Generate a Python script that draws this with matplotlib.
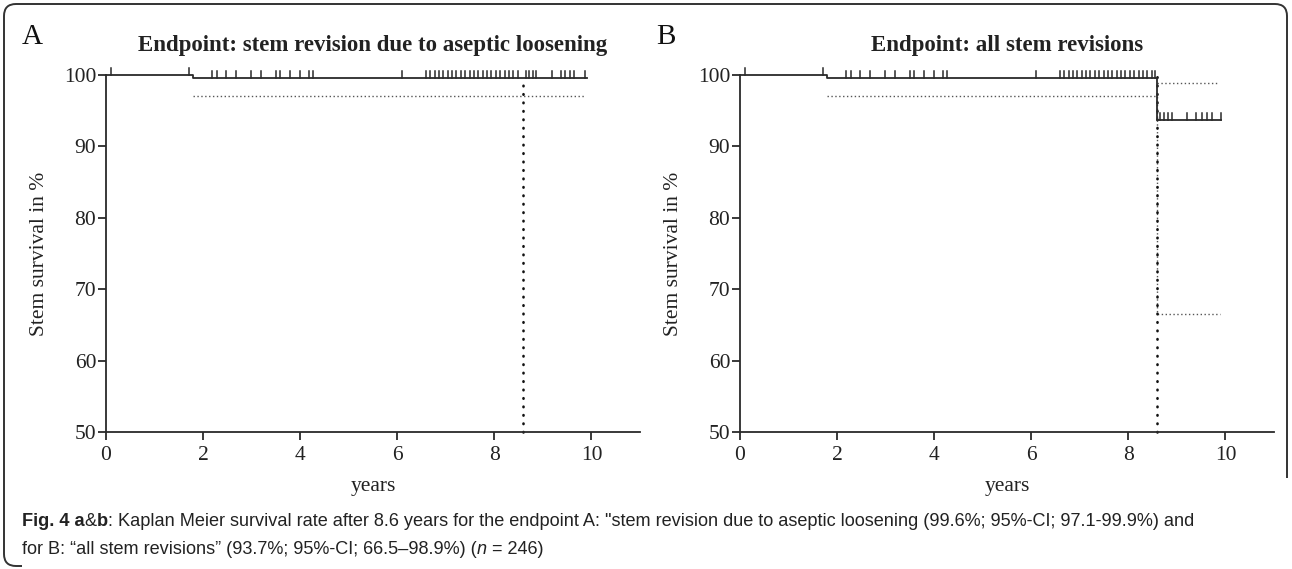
import matplotlib
matplotlib.use('Agg')
import matplotlib.pyplot as plt
from matplotlib.path import Path
from matplotlib.patches import PathPatch

# survival curves (years, %)
times_A = [0, 1.79, 9.9]
surv_A = [100, 99.6, 99.6]
censor_A = [0.1, 1.7, 2.19, 2.29, 2.47, 2.68, 2.99, 3.19, 3.50, 3.58, 3.78, 3.99, 4.19, 4.27,
            6.10, 6.59, 6.68, 6.77, 6.86, 6.95, 7.04, 7.13, 7.22, 7.31, 7.40, 7.49, 7.58,
            7.67, 7.76, 7.85, 7.94, 8.03, 8.12, 8.21, 8.30, 8.39, 8.48, 8.65, 8.72, 8.79,
            8.86, 9.19, 9.38, 9.46, 9.55, 9.64, 9.87]
ci_low_A_x = [1.8, 9.85]
ci_low_A = [97.1, 97.1]

times_B = [0, 1.79, 8.6, 9.9]
surv_B = [100, 99.6, 93.7, 93.7]
censor_B = [0.1, 1.7, 2.19, 2.29, 2.47, 2.68, 2.99, 3.19, 3.50, 3.58, 3.78, 3.99, 4.19, 4.27,
            6.10, 6.59, 6.68, 6.77, 6.86, 6.95, 7.04, 7.13, 7.22, 7.31, 7.40, 7.49, 7.58,
            7.67, 7.76, 7.85, 7.94, 8.03, 8.12, 8.21, 8.30, 8.39, 8.48, 8.55,
            8.66, 8.73, 8.81, 8.90, 9.20, 9.40, 9.51, 9.61, 9.72, 9.90]
ci_low_B_x = [1.8, 8.6, 9.88]
ci_low_B = [97.1, 66.5, 66.5]
ci_up_B_x = [8.6, 9.85]
ci_up_B = [98.9, 98.9]

marker_year = 8.6
panel_letters = ['A', 'B']
titles = ['Endpoint: stem revision due to aseptic loosening', 'Endpoint: all stem revisions']

W, H = 1292, 569
fig = plt.figure(figsize=(W / 100, H / 100), dpi=100)
serif = ['Liberation Serif', 'DejaVu Serif']
line_col = '#2a2a2a'


def px_box(left, top, right, bottom):
    return [left / W, 1 - bottom / H, (right - left) / W, (bottom - top) / H]


def draw_panel(ax, t, s, censor, ci_sets, vline_top, letter, title):
    ax.set_xlim(0, 11)
    ax.set_ylim(50, 100)
    for side in ['top', 'right']:
        ax.spines[side].set_visible(False)
    for side in ['left', 'bottom']:
        ax.spines[side].set_linewidth(1.3)
        ax.spines[side].set_color(line_col)
    ax.set_xticks([0, 2, 4, 6, 8, 10])
    ax.set_yticks([50, 60, 70, 80, 90, 100])
    ax.tick_params(direction='out', length=6, width=1.3, color=line_col, labelsize=15.5,
                   labelcolor='#222222')
    ax.tick_params(axis='y', pad=1)
    ax.tick_params(axis='x', pad=4)
    for lab in ax.get_xticklabels() + ax.get_yticklabels():
        lab.set_fontfamily(serif)
    ax.set_xlabel('years', fontsize=15.5, family=serif, labelpad=9, color='#222222')
    ax.set_ylabel('Stem survival in %', fontsize=15.5, family=serif, labelpad=11, color='#222222')
    ax.set_title(title, fontsize=16.5, family=serif, fontweight='bold', pad=17, color='#222222')
    ax.text(-0.157, 1.106, letter, transform=ax.transAxes, fontsize=21, family=serif,
            va='center', ha='left', color='#111111')

    # confidence band lines (fine dots)
    for cx, cy in ci_sets:
        ax.step(cx, cy, where='post', color='#555555', lw=1.0,
                linestyle=(0, (1, 1.8)), clip_on=False)
    # reference line at 8.6 years
    ax.plot([marker_year, marker_year], [50, vline_top], color='#111111', lw=1.9,
            linestyle=(0, (0.2, 3.0)), dash_capstyle='round', clip_on=False)
    # survival step
    ax.step(t, s, where='post', color=line_col, lw=1.3, clip_on=False)
    # censor marks
    for c in censor:
        idx = max(i for i in range(len(t)) if t[i] <= c)
        ax.plot([c, c], [s[idx], s[idx] + 1.0], color=line_col, lw=1.1, clip_on=False)


axA = fig.add_axes(px_box(106, 75, 640, 432))
axB = fig.add_axes(px_box(740, 75, 1274, 432))
draw_panel(axA, times_A, surv_A, censor_A, [(ci_low_A_x, ci_low_A)], 99.6,
           panel_letters[0], titles[0])
draw_panel(axB, times_B, surv_B, censor_B, [(ci_low_B_x, ci_low_B), (ci_up_B_x, ci_up_B)], 100,
           panel_letters[1], titles[1])

# rounded frame
r = 12
verts = [(1287, 478), (1287, 4 + r), (1287, 4), (1287 - r, 4), (4 + r, 4), (4, 4), (4, 4 + r),
         (4, 566 - r), (4, 566), (4 + r, 566), (4 + r + 6, 566)]
codes = [Path.MOVETO, Path.LINETO, Path.CURVE3, Path.CURVE3, Path.LINETO, Path.CURVE3, Path.CURVE3,
         Path.LINETO, Path.CURVE3, Path.CURVE3, Path.LINETO]
verts = [(x / W, 1 - y / H) for x, y in verts]
fig.add_artist(PathPatch(Path(verts, codes), transform=fig.transFigure, fill=False,
                         edgecolor='#333333', lw=1.4))

# caption, drawn piece by piece
cap_font = ['Liberation Sans', 'DejaVu Sans']
line1 = [('Fig. 4 a', 'bold', 'normal'), ('&', 'normal', 'normal'), ('b', 'bold', 'normal'),
         (': Kaplan Meier survival rate after 8.6 years for the endpoint A: "stem revision due to '
          'aseptic loosening (99.6%; 95%-CI; 97.1-99.9%) and', 'normal', 'normal')]
line2 = [('for B: \u201call stem revisions\u201d (93.7%; 95%-CI; 66.5\u201398.9%) (', 'normal', 'normal'),
         ('n', 'normal', 'italic'), (' = 246)', 'normal', 'normal')]

fig.canvas.draw()
renderer = fig.canvas.get_renderer()
for pieces, ypix in [(line1, 522), (line2, 549)]:
    x = 22
    for txt, weight, style in pieces:
        t = fig.text(x / W, 1 - ypix / H, txt, fontsize=13.1, family=cap_font,
                     fontweight=weight, fontstyle=style, va='center', ha='left', color='#222222')
        bb = t.get_window_extent(renderer)
        x += bb.width

fig.savefig('out.png', dpi=100)
